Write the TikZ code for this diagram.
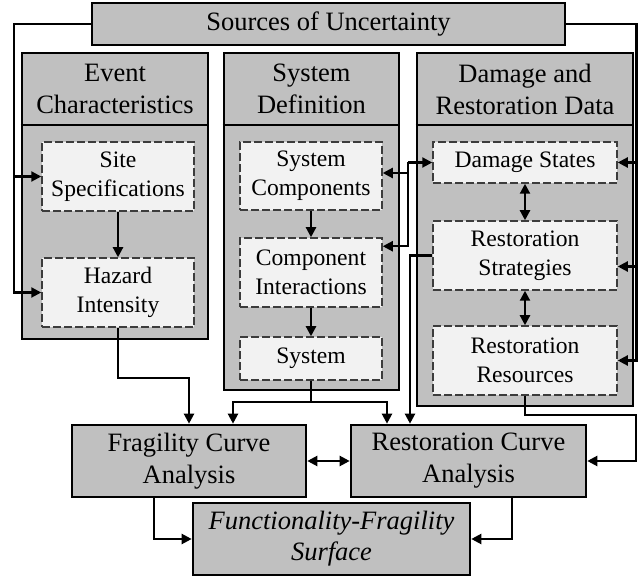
\documentclass[tikz,border=0pt]{standalone}
\usepackage{fontspec}
\setmainfont{LiberationSerif-Regular.ttf}[ItalicFont=LiberationSerif-Italic.ttf]
\usetikzlibrary{arrows.meta,calc}
\definecolor{panelgray}{RGB}{192,192,192}
\definecolor{itemgray}{RGB}{242,242,242}
\definecolor{dashgray}{RGB}{60,60,60}
\begin{document}
\begin{tikzpicture}[x=1pt,y=-1pt,
  panel/.style={draw=black,line width=2.6pt,fill=panelgray,inner sep=0pt},
  titled/.style={panel,align=center,font=\fontsize{26.5}{32}\selectfont},
  item/.style={draw=dashgray,line width=1.5pt,dash pattern=on 8pt off 3pt,
    fill=itemgray,align=center,inner sep=0pt,font=\fontsize{23.6}{29}\selectfont},
  head/.style={align=center,inner sep=0pt,font=\fontsize{26.5}{32}\selectfont},
  sep/.style={line width=2.6pt},
  tip/.tip={Triangle[length=10pt,width=10pt]},
  arr/.style={line width=2.2pt,-tip},
  darr/.style={line width=2.2pt,tip-tip},
]
\useasboundingbox (0,0) rectangle (638,580);

% ---------- panels ----------
\node[titled,minimum width=473pt,minimum height=42pt] (src) at (328.5,24) {Sources of Uncertainty};

\node[panel,minimum width=186pt,minimum height=286pt] (ev) at (115,196) {};
\node[panel,minimum width=175pt,minimum height=337pt] (sd) at (311.5,221.5) {};
\node[panel,minimum width=216pt,minimum height=353pt] (dr) at (525,229.5) {};

\coordinate (hl) at (0,125);
\draw[sep] (ev.west |- hl) -- (ev.east |- hl);
\draw[sep] (sd.west |- hl) -- (sd.east |- hl);
\draw[sep] (dr.west |- hl) -- (dr.east |- hl);

\node[head] (evh) at (115,89) {Event\\Characteristics};
\node[head] (sdh) at (311.5,89) {System\\Definition};
\node[head] (drh) at (525,89) {Damage and\\Restoration Data};

% ---------- items ----------
\node[item,minimum width=152pt,minimum height=69pt] (site) at (118,176.5) {Site\\Specifications};
\node[item,minimum width=152pt,minimum height=69pt] (haz) at (118,292.5) {Hazard\\Intensity};

\node[item,minimum width=142pt,minimum height=68pt] (comp) at (311,176) {System\\Components};
\node[item,minimum width=142pt,minimum height=69pt] (inter) at (311,272.5) {Component\\Interactions};
\node[item,minimum width=142pt,minimum height=43pt] (sys) at (311,358.5) {System};

\node[item,minimum width=184pt,minimum height=41pt] (dst) at (525,162.5) {Damage States};
\node[item,minimum width=184pt,minimum height=69pt] (strat) at (525,255.5) {Restoration\\Strategies};
\node[item,minimum width=184pt,minimum height=69pt] (res) at (525,360.5) {Restoration\\Resources};

% ---------- analyses ----------
\node[titled,minimum width=234pt,minimum height=72pt] (frag) at (189,461) {Fragility Curve\\Analysis};
\node[titled,minimum width=235pt,minimum height=72pt] (rest) at (468.5,461) {Restoration Curve\\Analysis};
\node[titled,minimum width=277pt,minimum height=72pt,
  font=\fontsize{26.5}{31}\selectfont\itshape] (surf) at (331.5,539) {Functionality-Fragility\\Surface};

% ---------- uncertainty feeds ----------
\coordinate (lx) at (14,24);
\draw[arr] (src.west) -- (lx) |- (haz.west);
\draw[arr] (lx |- site.west) -- (site.west);

\coordinate (rx) at (636.5,24);
\draw[arr] (src.east) -- (rx) |- (res.east);
\draw[arr] (rx |- dst.east) -- (dst.east);
\draw[arr] ($(rx |- strat.east)+(0,11)$) -- ($(strat.east)+(0,11)$);

% ---------- inside the panels ----------
\draw[arr] (site.south) -- (haz.north);
\draw[arr] (comp.south) -- (inter.north);
\draw[arr] (inter.south) -- (sys.north);
\draw[darr] (dst.south) -- (strat.north);
\draw[darr] (strat.south) -- (res.north);

% ---------- system definition <-> damage states ----------
\coordinate (dj) at (408,162.5);
\draw[arr] (dj) -- (dst.west);
\draw[arr] (dj) |- ($(inter.north east)+(0,9)$);
\draw[arr] ($(dj)+(0,10.5)$) -- ($(comp.east)+(0,-3)$);

% ---------- feeds into the curve analyses ----------
\draw[arr] (haz.south) -- ++(0,50) -| (frag.north);
\coordinate (sj) at (311,402);
\draw[line width=2.2pt] (sys.south) -- (sj);
\draw[arr] (sj) -| ($(frag.north)+(44,0)$);
\draw[arr] (sj) -| ($(rest.north)+(-81.5,0)$);
\draw[arr] (strat.west) -| ($(rest.north)+(-58.5,0)$);
\draw[arr] (res.south) -- ++(0,19) -| ($(rest.east)+(49,0)$) -- (rest.east);
\draw[darr] (frag.east) -- (rest.west);

% ---------- surface ----------
\draw[arr] ($(frag.south)+(-35,0)$) |- (surf.west);
\draw[arr] ($(rest.south)+(43.5,0)$) |- (surf.east);
\end{tikzpicture}
\end{document}
